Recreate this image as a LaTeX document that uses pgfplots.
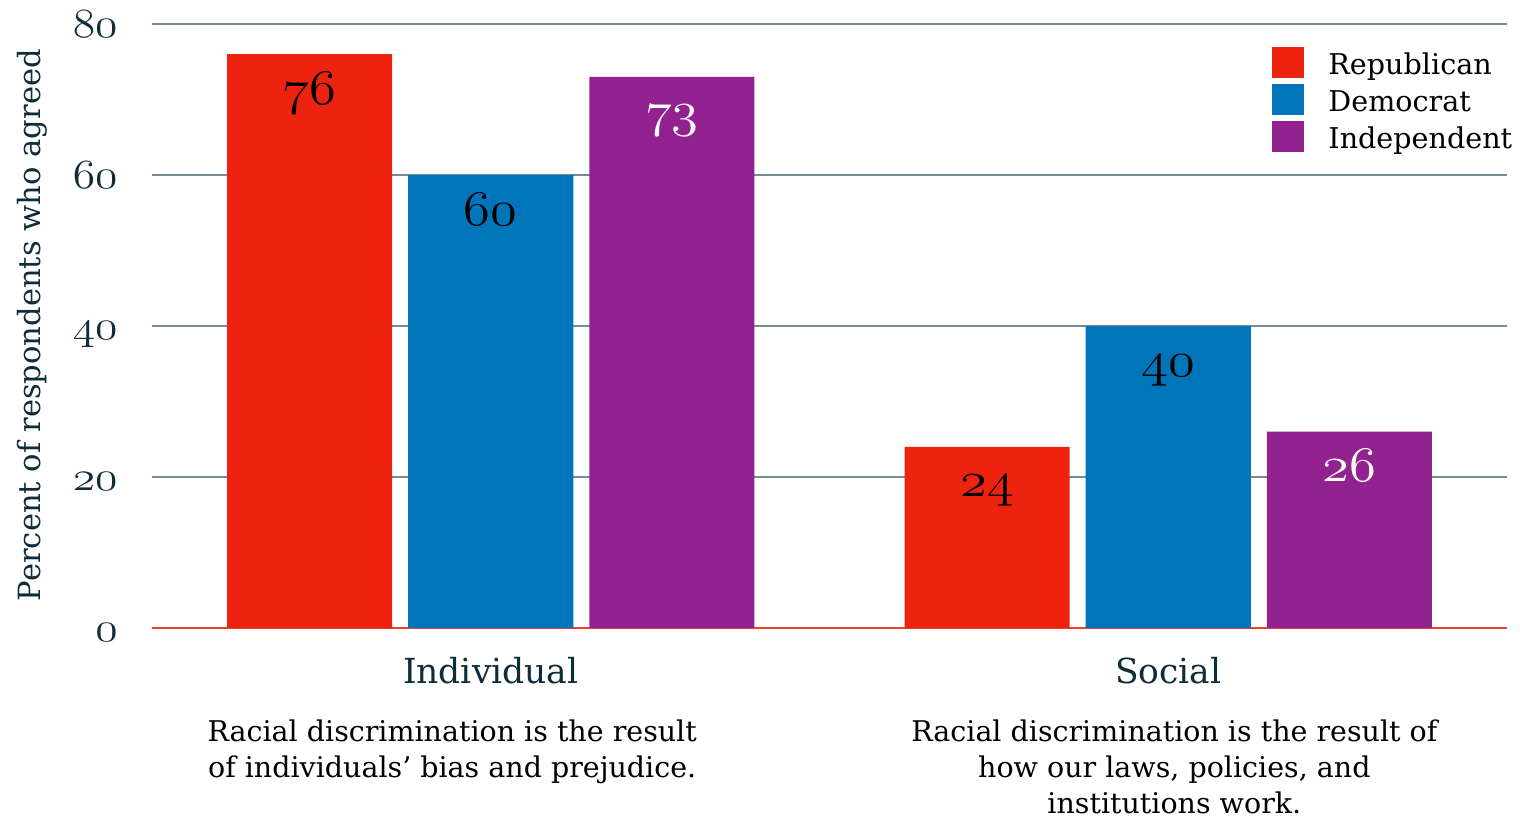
\documentclass[border=0pt]{standalone}
\usepackage{fontspec}
\setmainfont{DejaVu Serif}
\usepackage{pgfplots}
\pgfplotsset{compat=1.18}

\definecolor{rep}{RGB}{237,35,15}
\definecolor{dem}{RGB}{0,117,185}
\definecolor{ind}{RGB}{146,34,144}
\definecolor{gridc}{RGB}{120,140,152}
\definecolor{zeroc}{RGB}{235,65,45}
\definecolor{ink}{RGB}{14,45,56}

% old-style figures taken from the math italic font, slightly widened
\newcommand\osf[1]{\scalebox{1.1}[1]{\usefont{OML}{lmm}{m}{it}#1}}

\begin{document}
\begin{tikzpicture}
\begin{axis}[
  at={(0,0)}, anchor=south west,
  width=677.5pt, height=302pt, scale only axis,
  xmin=-0.5, xmax=1.5, ymin=0, ymax=80,
  clip=false,
  axis line style={draw=none},
  tick style={draw=none},
  ytick={0,20,40,60,80},
  ymajorgrids,
  grid style={gridc, line width=0.85pt},
  yticklabel={\osf{\pgfmathprintnumber[assume math mode=true]{\tick}}},
  yticklabel style={font=\fontsize{22.5}{22.5}\selectfont, text=ink,
    anchor=base east, inner sep=0pt, xshift=-17pt, yshift=-6.5pt},
  xtick={0,1},
  xticklabels={Individual, Social},
  xticklabel style={font=\fontsize{17.25}{17.25}\selectfont, text=ink,
    anchor=base, inner sep=0pt, yshift=-27.5pt},
  ylabel={Percent of respondents who agreed},
  ylabel style={at={(rel axis cs:-0.0826,0.5017)}, anchor=base,
    inner sep=0pt, font=\fontsize{15.3}{15.3}\selectfont, text=ink},
  legend cell align=left,
  legend image code/.code={\fill[#1] (0pt,-6.25pt) rectangle (16pt,9.25pt);},
  legend style={at={(rel axis cs:0.8266,0.9619)}, anchor=north west,
    draw=none, fill=none, inner sep=0pt, row sep=0pt, column sep=0pt,
    font=\fontsize{14.3}{14.3}\selectfont,
    nodes={inner sep=0pt, text height=13.5pt, text depth=5pt},
    /tikz/every odd column/.style={column sep=12pt}},
  nodes near coords={\osf{\pgfmathprintnumber[assume math mode=true]{\pgfplotspointmeta}}},
  every node near coord/.append style={anchor=base, inner sep=0pt, yshift=-25pt,
    font=\fontsize{29}{29}\selectfont, text=black},
]
% red baseline at zero, under the bars
\draw[zeroc, line width=1pt] (axis cs:-0.5,0) -- (axis cs:1.5,0);

\addplot[ybar, bar width=0.2437, bar shift=0pt, fill=rep, draw=none]
  coordinates {(-0.2674,76) (0.7326,24)};
\addlegendentry{Republican}
\addplot[ybar, bar width=0.2437, bar shift=0pt, fill=dem, draw=none]
  coordinates {(0,60) (1,40)};
\addlegendentry{Democrat}
\addplot[ybar, bar width=0.2437, bar shift=0pt, fill=ind, draw=none,
  every node near coord/.append style={text=white}]
  coordinates {(0.2674,73) (1.2674,26)};
\addlegendentry{Independent}

% statements under each category
\node[align=center, anchor=north, inner sep=0pt, text=black,
  font=\fontsize{14.25}{18}\selectfont]
  at (axis cs:-0.0569,0) [yshift=-45.5pt]
  {Racial discrimination is the result\\of individuals’ bias and prejudice.};
\node[align=center, anchor=north, inner sep=0pt, text=black,
  font=\fontsize{14.25}{18}\selectfont]
  at (axis cs:1.009,0) [yshift=-45.5pt]
  {Racial discrimination is the result of\\how our laws, policies, and\\institutions work.};
\end{axis}
\pgfresetboundingbox
\path[use as bounding box] (-76pt,-96.5pt) rectangle (684pt,314pt);
\end{tikzpicture}
\end{document}
